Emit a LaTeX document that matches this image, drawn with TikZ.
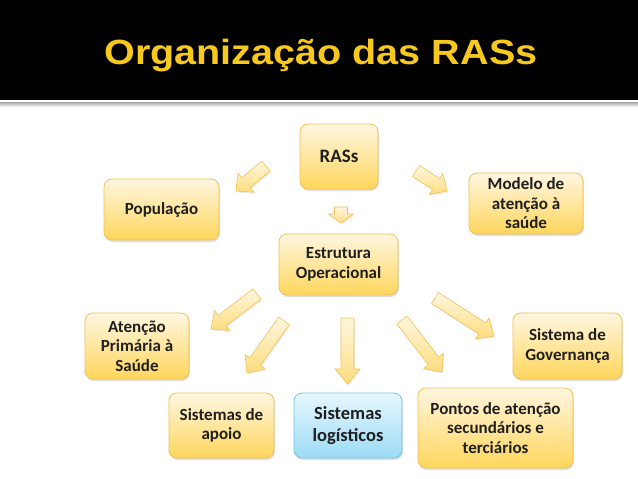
\documentclass[tikz,border=0pt]{standalone}
\usepackage{fontspec}
\setmainfont{Carlito}
\newfontfamily\titlefont{Liberation Sans}
\usetikzlibrary{calc,shadows}
\definecolor{rasgold}{HTML}{F7C81E}
\definecolor{rasedge}{HTML}{EFC253}
\definecolor{raslight}{HTML}{FFF6E0}
\definecolor{rasdeep}{HTML}{FFD65C}
\definecolor{rasarrow}{HTML}{FFDD7E}
\definecolor{rasbluelight}{HTML}{E6F7FD}
\definecolor{rasbluedeep}{HTML}{9CDBF5}
\definecolor{rasblueedge}{HTML}{72C4E6}

% block arrow from tail #2 to tip #3, head length #1
\newcommand\fatarrow[3][13]{%
  \coordinate (neck) at ($(#3)!#1pt!(#2)$);
  \path[arrowbody] ($(#2)!6.5pt!90:(#3)$) -- ($(neck)!6.5pt!-90:(#2)$)
    -- ($(neck)!12.5pt!-90:(#2)$) -- (#3) -- ($(neck)!12.5pt!90:(#2)$)
    -- ($(neck)!6.5pt!90:(#2)$) -- ($(#2)!6.5pt!-90:(#3)$) -- cycle;}

\begin{document}
\begin{tikzpicture}[x=1pt,y=-1pt,
  box/.style={draw=rasedge,line width=0.8pt,rounded corners=8pt,
    top color=raslight,bottom color=rasdeep,align=center,
    font=\bfseries\fontsize{17}{19.5}\selectfont,text=black!88,
    drop shadow={opacity=0.25,shadow xshift=1pt,shadow yshift=-2pt}},
  bluebox/.style={box,draw=rasblueedge,top color=rasbluelight,bottom color=rasbluedeep},
  arrowbody/.style={draw=rasedge,line width=0.6pt,line join=round,
    top color=raslight,bottom color=rasarrow,
    drop shadow={opacity=0.15,shadow xshift=1pt,shadow yshift=-1.5pt}}]
  \useasboundingbox (0,0) rectangle (638,479);

  % header
  \fill[black] (0,0) rectangle (638,100);
  \shade[top color=black!35,bottom color=white] (0,102) rectangle (638,107);
  \node[anchor=base,text=rasgold,font=\titlefont\bfseries\fontsize{35}{38}\selectfont]
    (title) at (321,64) {\scalebox{1.13}[1]{Organização das RASs}};

  % boxes
  \node[box,minimum width=78pt,minimum height=65pt,font=\bfseries\fontsize{19}{22}\selectfont]
    (ras) at (339,156.5) {RASs};
  \node[box,minimum width=115pt,minimum height=61pt] (pop) at (161.5,209.5) {População};
  \node[box,minimum width=114pt,minimum height=61pt] (modelo) at (526,203.5) {Modelo de\\atenção à\\saúde};
  \node[box,minimum width=119pt,minimum height=61pt] (estrut) at (338.5,264.5) {Estrutura\\Operacional};
  \node[box,minimum width=104pt,minimum height=66pt] (aps) at (137,346) {Atenção\\Primária à\\Saúde};
  \node[box,minimum width=109pt,minimum height=66pt] (gov) at (567.5,346) {Sistema de\\Governança};
  \node[box,minimum width=105pt,minimum height=65pt] (apoio) at (221.5,425.5) {Sistemas de\\apoio};
  \node[bluebox,minimum width=108pt,minimum height=65pt,font=\bfseries\fontsize{18.5}{22}\selectfont]
    (logist) at (348,425.5) {Sistemas\\logísticos};
  \node[box,minimum width=155pt,minimum height=80pt] (pontos) at (495.5,428) {Pontos de atenção\\secundários e\\terciários};

  % arrow ends
  \coordinate (t1) at (266,166); \coordinate (h1) at (236,191);
  \coordinate (t2) at (341,207); \coordinate (h2) at (341,223);
  \coordinate (t3) at (416,171); \coordinate (h3) at (447,191);
  \coordinate (t4) at (257,294); \coordinate (h4) at (211,329);
  \coordinate (t5) at (284,321); \coordinate (h5) at (247,373);
  \coordinate (t6) at (347.5,318); \coordinate (h6) at (347.5,384);
  \coordinate (t7) at (402,320); \coordinate (h7) at (442,372);
  \coordinate (t8) at (435,298); \coordinate (h8) at (494,336);

  \fatarrow{t1}{h1}
  \fatarrow[9]{t2}{h2}
  \fatarrow{t3}{h3}
  \fatarrow[14]{t4}{h4}
  \fatarrow[14]{t5}{h5}
  \fatarrow[15]{t6}{h6}
  \fatarrow[14]{t7}{h7}
  \fatarrow[14]{t8}{h8}
\end{tikzpicture}
\end{document}
